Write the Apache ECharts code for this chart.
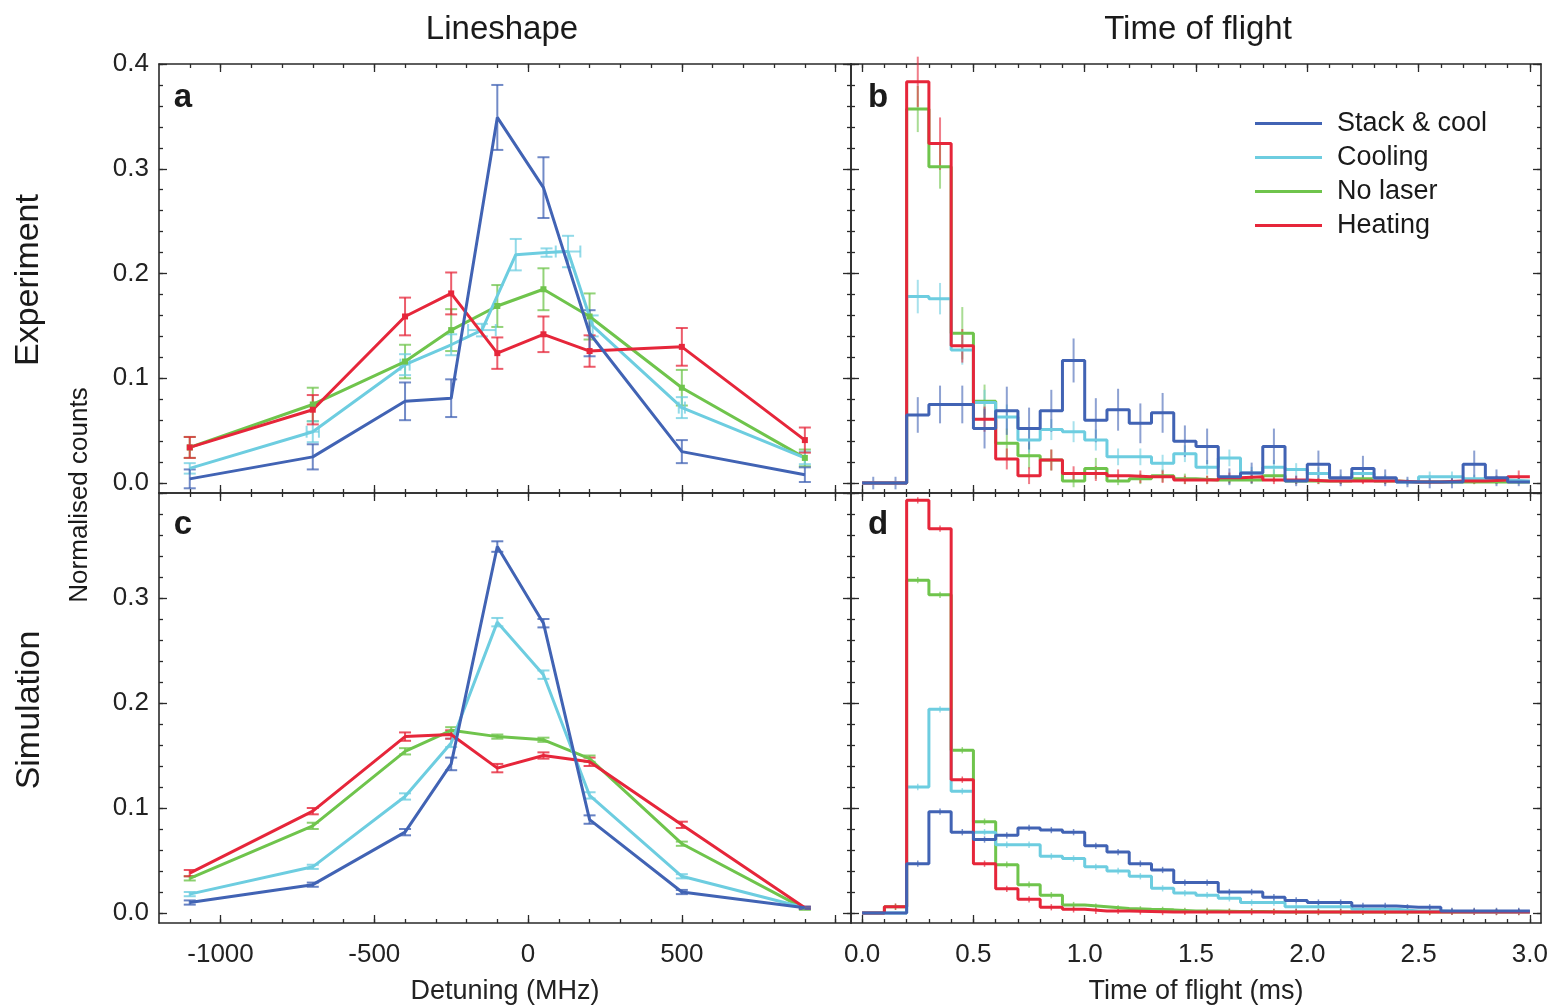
<!DOCTYPE html>
<html>
<head>
<meta charset="utf-8">
<script src="https://cdn.jsdelivr.net/npm/echarts@6/dist/echarts.min.js"></script>
<style>html, body { margin: 0; padding: 0; background: #fff; }</style>
</head>
<body>
<div id="chart" style="width:1555px;height:1007px;"></div>
<script>
// ---- data ----
// lineshape: detuning in MHz
const detuning = [-1100, -700, -400, -250, -100, 50, 200, 500, 900];
const detuningCyan = [-1100, -700, -400, -250, -150, -40, 60, 130, 210, 500, 900];

// panel a (experiment)
const stackA = [0.004, 0.025, 0.078, 0.081, 0.349, 0.282, 0.143, 0.030, 0.008];
const stackAErr = [0.009, 0.012, 0.018, 0.018, 0.031, 0.029, 0.022, 0.011, 0.007];
const coolA = [0.014, 0.049, 0.113, 0.132, 0.146, 0.218, 0.220, 0.221, 0.150, 0.072, 0.024];
const coolAErr = [0.005, 0.010, 0.010, 0.010, 0.006, 0.015, 0.004, 0.015, 0.010, 0.010, 0.006];
const coolAXErr = [0, 20, 15, 0, 45, 0, 0, 40, 0, 10, 0];
const noLaserA = [0.034, 0.075, 0.116, 0.146, 0.169, 0.185, 0.159, 0.091, 0.024];
const noLaserAErr = [0.010, 0.016, 0.016, 0.020, 0.020, 0.020, 0.022, 0.017, 0.008];
const heatA = [0.034, 0.070, 0.159, 0.181, 0.124, 0.142, 0.126, 0.130, 0.041];
const heatAErr = [0.010, 0.014, 0.018, 0.020, 0.015, 0.017, 0.015, 0.018, 0.012];

// panel c (simulation)
const stackC = [0.010, 0.027, 0.077, 0.142, 0.349, 0.276, 0.089, 0.020, 0.005];
const stackCErr = [0.002, 0.002, 0.003, 0.006, 0.005, 0.004, 0.004, 0.002, 0.001];
const coolC = [0.018, 0.044, 0.111, 0.162, 0.277, 0.227, 0.112, 0.035, 0.005];
const coolCErr = [0.002, 0.002, 0.003, 0.004, 0.004, 0.004, 0.003, 0.002, 0.001];
const noLaserC = [0.033, 0.083, 0.154, 0.174, 0.168, 0.165, 0.147, 0.066, 0.004];
const noLaserCErr = [0.002, 0.003, 0.003, 0.003, 0.002, 0.002, 0.003, 0.002, 0.001];
const heatC = [0.038, 0.097, 0.168, 0.170, 0.138, 0.150, 0.144, 0.084, 0.005];
const heatCErr = [0.003, 0.003, 0.004, 0.004, 0.004, 0.003, 0.004, 0.003, 0.001];

// time of flight histograms: 0.1 ms bins from 0 to 3 ms
const binWidth = 0.1;
const stackB = [0, 0, 0.065, 0.075, 0.075, 0.052, 0.069, 0.052, 0.069, 0.117, 0.060, 0.070, 0.057, 0.067, 0.040,
  0.035, 0.006, 0.0095, 0.035, 0.002, 0.018, 0.005, 0.014, 0.005, 0.001, 0.001, 0.001, 0.018, 0.005, 0.001];
const stackBErr = [0.006, 0.006, 0.017, 0.018, 0.018, 0.019, 0.023, 0.020, 0.020, 0.021, 0.021, 0.020, 0.019, 0.019, 0.015,
  0.017, 0.008, 0.010, 0.017, 0.005, 0.013, 0.008, 0.012, 0.008, 0.005, 0.006, 0.006, 0.013, 0.008, 0.004];
const coolB = [0, 0, 0.178, 0.176, 0.127, 0.077, 0.063, 0.041, 0.051, 0.049, 0.041, 0.025, 0.025, 0.019, 0.028,
  0.015, 0.024, 0.0095, 0.015, 0.013, 0.009, 0.004, 0.009, 0.004, 0.001, 0.006, 0.006, 0.004, 0.003, 0.002];
const coolBErr = [0, 0, 0.016, 0.015, 0.014, 0.012, 0.012, 0.012, 0.010, 0.010, 0.010, 0.008, 0.008, 0.008, 0.008,
  0.007, 0.008, 0.006, 0.007, 0.006, 0.006, 0.004, 0.006, 0.004, 0.003, 0.005, 0.005, 0.004, 0.004, 0.003];
const noLaserB = [0, 0, 0.357, 0.302, 0.143, 0.078, 0.038, 0.026, 0.022, 0.002, 0.014, 0.002, 0.004, 0.007, 0.004,
  0.003, 0.003, 0.003, 0.007, 0.002, 0.002, 0.002, 0.004, 0.002, 0.001, 0.001, 0.001, 0.001, 0.001, 0.001];
const noLaserBErr = [0, 0, 0.022, 0.021, 0.025, 0.016, 0.014, 0.012, 0.010, 0.006, 0.010, 0.004, 0.005, 0.006, 0.005,
  0.004, 0.004, 0.004, 0.006, 0.003, 0.003, 0.003, 0.004, 0.003, 0.002, 0.002, 0.002, 0.002, 0.002, 0.002];
const heatB = [0, 0, 0.383, 0.324, 0.131, 0.061, 0.023, 0.007, 0.022, 0.009, 0.009, 0.007, 0.006, 0.006, 0.003,
  0.003, 0.005, 0.006, 0.003, 0.003, 0.002, 0.002, 0.002, 0.002, 0.001, 0.001, 0.002, 0.002, 0.003, 0.006];
const heatBErr = [0, 0, 0.024, 0.025, 0.016, 0.012, 0.010, 0.008, 0.010, 0.007, 0.007, 0.006, 0.006, 0.006, 0.004,
  0.004, 0.005, 0.006, 0.004, 0.004, 0.003, 0.003, 0.003, 0.003, 0.002, 0.002, 0.003, 0.003, 0.004, 0.006];

const stackD = [0, 0, 0.047, 0.0965, 0.077, 0.070, 0.074, 0.081, 0.079, 0.077, 0.064, 0.058, 0.047, 0.041, 0.029,
  0.029, 0.020, 0.020, 0.015, 0.012, 0.010, 0.010, 0.0067, 0.0067, 0.0054, 0.0054, 0.002, 0.002, 0.002, 0.002];
const coolD = [0, 0, 0.120, 0.194, 0.116, 0.077, 0.065, 0.065, 0.054, 0.052, 0.044, 0.040, 0.035, 0.0235, 0.019,
  0.017, 0.014, 0.010, 0.010, 0.006, 0.006, 0.006, 0.0035, 0.0035, 0.002, 0.002, 0.0013, 0.001, 0.001, 0.001];
const noLaserD = [0, 0.006, 0.317, 0.303, 0.155, 0.087, 0.046, 0.027, 0.017, 0.0076, 0.006, 0.0044, 0.0035, 0.003, 0.002,
  0.002, 0.0015, 0.0015, 0.001, 0.001, 0.001, 0.001, 0.001, 0.001, 0.001, 0.001, 0.001, 0.001, 0.001, 0.001];
const heatD = [0, 0.006, 0.393, 0.366, 0.127, 0.047, 0.023, 0.013, 0.0055, 0.0035, 0.002, 0.002, 0.0015, 0.001, 0.001,
  0.001, 0.001, 0.001, 0.001, 0.001, 0.001, 0.001, 0.001, 0.001, 0.001, 0.001, 0.001, 0.001, 0.001, 0.001];
const simErr = 0.003;

// tick labels
const detLabels = [-1000, -500, 0, 500];
const detMajor = [-1000, -500, 0, 500, 1000];
const tofLabels = [0, 0.5, 1, 1.5, 2, 2.5, 3];
const countLabelsTop = [0, 0.1, 0.2, 0.3, 0.4];
const countLabelsBottom = [0, 0.1, 0.2, 0.3];
const names = ['Stack & cool', 'Cooling', 'No laser', 'Heating'];

// ---- styling ----
const blue = '#4163b4', cyan = '#6dcde0', green = '#6fc44c', red = '#e6263a';
const frame = '#2a2a2a';
const font = '"Liberation Sans", Arial, sans-serif';

const detMinor = [], tofMinor = [], tofMajor = tofLabels, countMinor = [], countMajor = countLabelsTop;
for (let v = -1100; v <= 1000; v += 100) detMinor.push(v);
for (let i = 0; i <= 30; i++) tofMinor.push(+(i * 0.1).toFixed(1));
for (let i = 0; i <= 20; i++) countMinor.push(+(i * 0.02).toFixed(2));

const detSpec = { min: -1200, max: 1050, minor: detMinor, major: detMajor, labels: detLabels, fmt: v => String(v) };
const tofSpec = { min: -0.05, max: 3.05, minor: tofMinor, major: tofMajor, labels: tofLabels, fmt: v => (+v).toFixed(1) };
const ySpecTop = { min: -0.0095, max: 0.4, minor: countMinor, major: countMajor, labels: countLabelsTop, fmt: v => (+v).toFixed(1) };
const ySpecBottom = { min: -0.0095, max: 0.4, minor: countMinor, major: countMajor, labels: countLabelsBottom, fmt: v => (+v).toFixed(1) };

const xAxes = [], yAxes = [];
function axis(g, spec, pos, major, showLabel, name) {
  return {
    gridIndex: g, type: 'value', position: pos, min: spec.min, max: spec.max,
    axisLine: { show: !major, onZero: false, lineStyle: { color: frame, width: 1.6 } },
    axisTick: { show: true, inside: true, length: major ? 8 : 4, customValues: major ? spec.major : spec.minor,
      lineStyle: { color: frame, width: 1.3 } },
    axisLabel: { show: showLabel, customValues: spec.labels, formatter: spec.fmt, fontSize: 26, fontFamily: font,
      color: '#222', margin: pos === 'left' ? 10 : 19, padding: pos === 'left' ? [8, 0, 0, 0] : 0 },
    splitLine: { show: false },
    name: name || '', nameLocation: 'middle', nameGap: 55,
    nameTextStyle: { fontSize: 27, fontFamily: font, color: '#222' }
  };
}
function addGrid(g, xs, ys, showX, showY, xName) {
  const xi = xAxes.length, yi = yAxes.length;
  xAxes.push(axis(g, xs, 'bottom', false, showX, showX ? xName : ''));
  xAxes.push(axis(g, xs, 'bottom', true, false));
  xAxes.push(axis(g, xs, 'top', false, false));
  xAxes.push(axis(g, xs, 'top', true, false));
  yAxes.push(axis(g, ys, 'left', false, showY));
  yAxes.push(axis(g, ys, 'left', true, false));
  yAxes.push(axis(g, ys, 'right', false, false));
  yAxes.push(axis(g, ys, 'right', true, false));
  return { xi, yi };
}
const axA = addGrid(0, detSpec, ySpecTop, false, true);
const axB = addGrid(1, tofSpec, ySpecTop, false, false);
const axC = addGrid(2, detSpec, ySpecBottom, true, true, 'Detuning (MHz)');
const axD = addGrid(3, tofSpec, ySpecBottom, true, false, 'Time of flight (ms)');

function pairs(xs, ys) { return xs.map((x, i) => [x, ys[i]]); }
function histLine(vals) {
  const d = vals.map((v, i) => [i * binWidth, v]);
  d.push([vals.length * binWidth, vals[vals.length - 1]]);
  return d;
}
function errRows(xs, ys, err, xerr) {
  return xs.map((x, i) => [x, ys[i], err[i], xerr ? xerr[i] : 0]);
}
function histErrRows(vals, err) {
  return vals.map((v, i) => [i * binWidth + binWidth / 2, v, Array.isArray(err) ? err[i] : (v > 0 ? err : 0), 0]);
}

function errSeries(color, rows, ax, cap, opacity, width) {
  return {
    type: 'custom', name: 'err', xAxisIndex: ax.xi, yAxisIndex: ax.yi, data: rows, z: 1, silent: true,
    encode: { x: 0, y: 1 },
    renderItem: function (params, api) {
      const x = api.value(0), y = api.value(1), e = api.value(2), ex = api.value(3);
      const st = { stroke: color, lineWidth: width, opacity: opacity };
      const ch = [];
      const seg = (a, b) => ch.push({ type: 'line', shape: { x1: a[0], y1: a[1], x2: b[0], y2: b[1] }, style: st });
      if (e > 0) {
        const lo = api.coord([x, y - e]), hi = api.coord([x, y + e]);
        seg(lo, hi);
        if (cap) {
          seg([lo[0] - cap, lo[1]], [lo[0] + cap, lo[1]]);
          seg([hi[0] - cap, hi[1]], [hi[0] + cap, hi[1]]);
        }
      }
      if (ex > 0) {
        const l = api.coord([x - ex, y]), r = api.coord([x + ex, y]);
        seg(l, r);
        if (cap) {
          seg([l[0], l[1] - cap], [l[0], l[1] + cap]);
          seg([r[0], r[1] - cap], [r[0], r[1] + cap]);
        }
      }
      return { type: 'group', children: ch };
    }
  };
}
function lineSeries(name, color, data, ax, marker) {
  return {
    type: 'line', name: name, xAxisIndex: ax.xi, yAxisIndex: ax.yi, data: data, z: 3,
    color: color, lineStyle: { color: color, width: 3 },
    showSymbol: !!marker, symbol: 'rect', symbolSize: 6, itemStyle: { color: color },
    silent: true
  };
}
function histSeries(name, color, vals, ax) {
  return {
    type: 'line', name: name, xAxisIndex: ax.xi, yAxisIndex: ax.yi, data: histLine(vals), step: 'end', z: 3,
    color: color, lineStyle: { color: color, width: 3 }, showSymbol: false, silent: true
  };
}

const series = [
  // a
  errSeries(green, errRows(detuning, noLaserA, noLaserAErr), axA, 6, 0.75, 2),
  errSeries(cyan, errRows(detuningCyan, coolA, coolAErr, coolAXErr), axA, 6, 0.75, 2),
  errSeries(red, errRows(detuning, heatA, heatAErr), axA, 6, 0.75, 2),
  errSeries(blue, errRows(detuning, stackA, stackAErr), axA, 6, 0.75, 2),
  lineSeries(names[2], green, pairs(detuning, noLaserA), axA, true),
  lineSeries(names[1], cyan, pairs(detuningCyan, coolA), axA, false),
  lineSeries(names[3], red, pairs(detuning, heatA), axA, true),
  lineSeries(names[0], blue, pairs(detuning, stackA), axA, false),
  // b
  errSeries(green, histErrRows(noLaserB, noLaserBErr), axB, 0, 0.6, 2),
  errSeries(cyan, histErrRows(coolB, coolBErr), axB, 0, 0.6, 2),
  errSeries(red, histErrRows(heatB, heatBErr), axB, 0, 0.6, 2),
  errSeries(blue, histErrRows(stackB, stackBErr), axB, 0, 0.6, 2),
  histSeries(names[2], green, noLaserB, axB),
  histSeries(names[1], cyan, coolB, axB),
  histSeries(names[3], red, heatB, axB),
  histSeries(names[0], blue, stackB, axB),
  // c
  errSeries(green, errRows(detuning, noLaserC, noLaserCErr), axC, 6, 0.8, 2),
  errSeries(cyan, errRows(detuning, coolC, coolCErr), axC, 6, 0.8, 2),
  errSeries(red, errRows(detuning, heatC, heatCErr), axC, 6, 0.8, 2),
  errSeries(blue, errRows(detuning, stackC, stackCErr), axC, 6, 0.8, 2),
  lineSeries(names[2], green, pairs(detuning, noLaserC), axC, false),
  lineSeries(names[1], cyan, pairs(detuning, coolC), axC, false),
  lineSeries(names[3], red, pairs(detuning, heatC), axC, false),
  lineSeries(names[0], blue, pairs(detuning, stackC), axC, false),
  // d
  errSeries(green, histErrRows(noLaserD, simErr), axD, 0, 0.7, 1.5),
  errSeries(cyan, histErrRows(coolD, simErr), axD, 0, 0.7, 1.5),
  errSeries(red, histErrRows(heatD, simErr), axD, 0, 0.7, 1.5),
  errSeries(blue, histErrRows(stackD, simErr), axD, 0, 0.7, 1.5),
  histSeries(names[2], green, noLaserD, axD),
  histSeries(names[1], cyan, coolD, axD),
  histSeries(names[3], red, heatD, axD),
  histSeries(names[0], blue, stackD, axD)
];

function txt(text, x, y, size, opts) {
  opts = opts || {};
  return {
    type: 'text', x: x, y: y, rotation: opts.rot || 0, z: 10,
    style: { text: text, font: (opts.bold ? 'bold ' : '') + size + 'px ' + font, fill: '#1a1a1a',
      textAlign: 'center', verticalAlign: 'middle' }
  };
}

const option = {
  animation: false,
  backgroundColor: '#fff',
  grid: [
    { left: 159, top: 64, width: 692, height: 429 },
    { left: 851, top: 64, width: 690, height: 429 },
    { left: 159, top: 493, width: 692, height: 430 },
    { left: 851, top: 493, width: 690, height: 430 }
  ],
  xAxis: xAxes,
  yAxis: yAxes,
  legend: {
    data: names, orient: 'vertical', left: 1255, top: 110, padding: 0, itemWidth: 67, itemHeight: 3, itemGap: 7,
    icon: 'rect', selectedMode: false,
    textStyle: { fontSize: 27, fontFamily: font, color: '#1a1a1a', padding: [0, 0, 0, 10] }
  },
  graphic: [
    txt('Lineshape', 502, 30, 33),
    txt('Time of flight', 1198, 30, 33),
    txt('Experiment', 29, 280, 34, { rot: Math.PI / 2 }),
    txt('Simulation', 30, 710, 34, { rot: Math.PI / 2 }),
    txt('Normalised counts', 80, 495, 26, { rot: Math.PI / 2 }),
    txt('a', 183, 98, 33, { bold: true }),
    txt('b', 878, 98, 33, { bold: true }),
    txt('c', 183, 525, 33, { bold: true }),
    txt('d', 878, 525, 33, { bold: true })
  ],
  series: series
};

const chart = echarts.init(document.getElementById('chart'));
chart.setOption(option);
</script>
</body>
</html>
